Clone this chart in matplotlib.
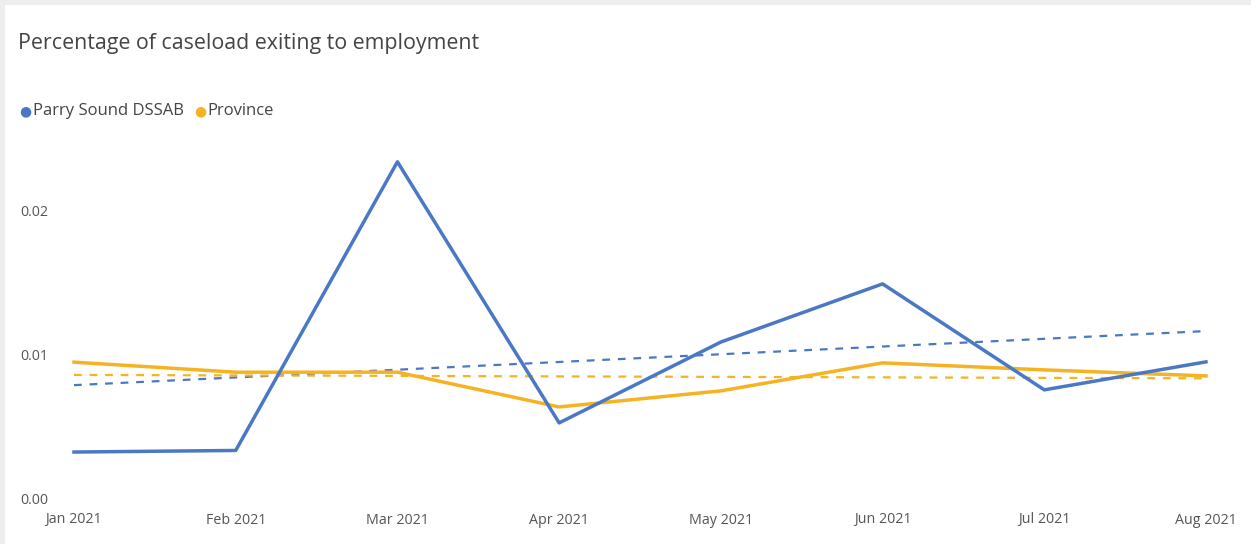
import numpy as np
import matplotlib.pyplot as plt
from matplotlib.patches import Rectangle
from matplotlib.transforms import blended_transform_factory

months = ['Jan 2021', 'Feb 2021', 'Mar 2021', 'Apr 2021',
          'May 2021', 'Jun 2021', 'Jul 2021', 'Aug 2021']
parry_sound = [0.00334, 0.00345, 0.02355, 0.00537, 0.0110, 0.01505, 0.00767, 0.00962]
province = [0.0096, 0.0089, 0.0089, 0.00648, 0.0076, 0.00955, 0.00906, 0.00864]
y_ticks = [0.0, 0.01, 0.02]
y_tick_labels = ['0.00', '0.01', '0.02']

blue = '#4A78C4'
yellow = '#F5B324'
text_gray = '#555555'

plt.rcParams['font.family'] = ['Open Sans', 'DejaVu Sans']

fig = plt.figure(figsize=(12.51, 5.44), dpi=100)
W, H = 1251, 544

# 枠（上と左の灰色の帯）
fig.patches.append(Rectangle((0, 0), 1, 1, transform=fig.transFigure,
                             facecolor='#eeeeee', edgecolor='none', zorder=-10))
fig.patches.append(Rectangle((5 / W, 0), 1, 1 - 5 / H, transform=fig.transFigure,
                             facecolor='white', edgecolor='none', zorder=-9))

ax = fig.add_axes([74 / W, 44 / H, 1132 / W, 359 / H])
ax.set_facecolor('none')

x = np.arange(len(months))

# 近似直線（線形回帰）
for values, color in [(parry_sound, blue), (province, yellow)]:
    slope, intercept = np.polyfit(x, values, 1)
    ax.plot(x, slope * x + intercept, color=color, linewidth=1.6,
            linestyle=(0, (3.5, 3.5)), clip_on=False, zorder=2)

ax.plot(x, province, color=yellow, linewidth=2.5, clip_on=False, zorder=3,
        solid_joinstyle='round')
ax.plot(x, parry_sound, color=blue, linewidth=2.5, clip_on=False, zorder=4,
        solid_joinstyle='round')

ax.set_xlim(0, 7)
ax.set_ylim(0, 0.025)
for s in ax.spines.values():
    s.set_visible(False)
ax.tick_params(length=0)
ax.set_xticks(x)
ax.set_xticklabels(months, fontsize=10.3, color=text_gray)
ax.tick_params(axis='x', pad=9)
ax.set_yticks([])

# y軸の目盛りラベル（左端にそろえる）
ytrans = blended_transform_factory(fig.transFigure, ax.transData)
for v, lab in zip(y_ticks, y_tick_labels):
    ax.text(20 / W, v, lab, transform=ytrans, fontsize=10.3, color=text_gray,
            ha='left', va='center', clip_on=False)

fig.text(18 / W, 1 - 44 / H, 'Percentage of caseload exiting to employment',
         fontsize=15.4, color='#444444', ha='left', va='center')

# 凡例
fig.text(19 / W, 1 - 111 / H, '\u25cf', fontsize=10, color=blue,
         ha='left', va='center', family='DejaVu Sans')
fig.text(33 / W, 1 - 111 / H, 'Parry Sound DSSAB', fontsize=12, color='#444444',
         ha='left', va='center')
fig.text(194 / W, 1 - 111 / H, '\u25cf', fontsize=10, color=yellow,
         ha='left', va='center', family='DejaVu Sans')
fig.text(207 / W, 1 - 111 / H, 'Province', fontsize=12, color='#444444',
         ha='left', va='center')

fig.savefig('out.png', dpi=100, facecolor='white')
